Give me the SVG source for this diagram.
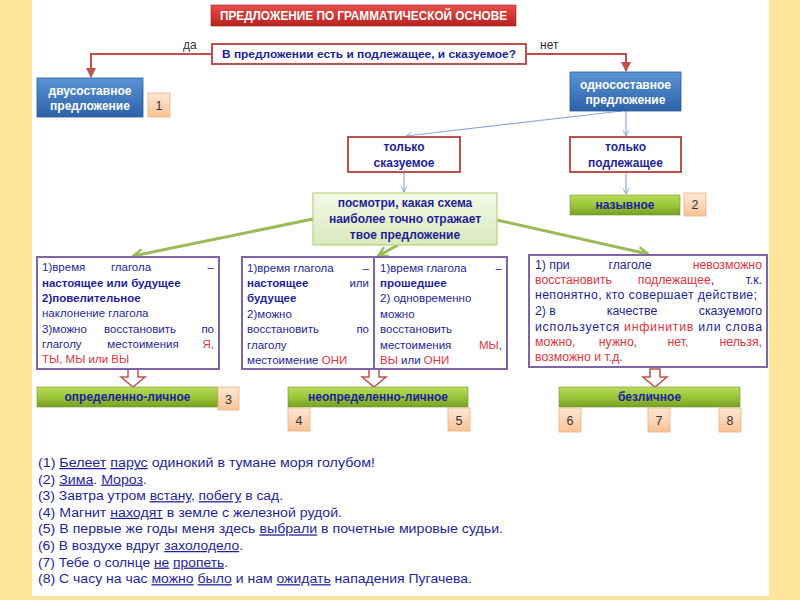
<svg xmlns="http://www.w3.org/2000/svg" width="800" height="600" viewBox="0 0 800 600">
<defs>
<linearGradient id="gRed" x1="0" y1="0" x2="0" y2="1"><stop offset="0" stop-color="#E8504A"/><stop offset="1" stop-color="#B8221F"/></linearGradient>
<linearGradient id="gBlue" x1="0" y1="0" x2="0" y2="1"><stop offset="0" stop-color="#5B93D6"/><stop offset="1" stop-color="#2D62A8"/></linearGradient>
<linearGradient id="gGreen" x1="0" y1="0" x2="0" y2="1"><stop offset="0" stop-color="#B9DC5C"/><stop offset="0.5" stop-color="#9CC63A"/><stop offset="1" stop-color="#76A022"/></linearGradient>
<linearGradient id="gLight" x1="0" y1="0" x2="0" y2="1"><stop offset="0" stop-color="#F4F9E8"/><stop offset="1" stop-color="#D9E9BC"/></linearGradient>
<linearGradient id="gOr" x1="0" y1="0" x2="0" y2="1"><stop offset="0" stop-color="#FEE8D6"/><stop offset="1" stop-color="#F9C296"/></linearGradient>
<marker id="mRed" viewBox="0 0 10 10" refX="9" refY="5" markerWidth="5" markerHeight="5" orient="auto"><path d="M0,0 L10,5 L0,10 z" fill="#C0504D"/></marker>
<marker id="mBlue" viewBox="0 0 10 10" refX="9" refY="5" markerWidth="7" markerHeight="7" orient="auto" markerUnits="userSpaceOnUse"><path d="M1,1 L9,5 L1,9" fill="none" stroke="#7F9FD0" stroke-width="1.3"/></marker>
<marker id="mGreen" viewBox="0 0 10 10" refX="9" refY="5" markerWidth="12" markerHeight="12" orient="auto" markerUnits="userSpaceOnUse"><path d="M1,1 L9,5 L1,9" fill="none" stroke="#9BBB59" stroke-width="2"/></marker>
</defs>
<style>
text{font-family:"Liberation Sans",Arial,sans-serif;}
.t{fill:#1f1f9a;font-size:11.5px;}
.t12{fill:#1f1f9a;font-size:12px;}
.tr{fill:#1f1f9a;font-size:12.3px;}
.b{font-weight:bold;}
.r{fill:#e5333b;}
.w12{fill:#ffffff;font-weight:bold;font-size:12px;}
.box{fill:#ffffff;stroke:#C0504D;stroke-width:2;}
.pbox{fill:#ffffff;stroke:#7F64A8;stroke-width:2;}
.blue{fill:url(#gBlue);stroke:#2A5A98;stroke-width:0.8;}
.green{fill:url(#gGreen);stroke:#6E9628;stroke-width:0.6;}
.or{fill:url(#gOr);stroke:#F2B07A;stroke-width:0.8;}
.num{fill:#333333;font-size:12.5px;}
.bt{fill:#1f1f9a;font-size:12.5px;}
.u{text-decoration:underline;}
.harrow{fill:#ffffff;stroke:#C0504D;stroke-width:1.5;}
</style>
<rect x="0" y="0" width="800" height="600" fill="#FFE49B"/>
<rect x="32" y="0" width="737" height="596" fill="#ffffff"/>

<g id="connectors">
<path d="M212,54 H91 V77" fill="none" stroke="#C0504D" stroke-width="2" marker-end="url(#mRed)"/>
<path d="M526,54 H626 V71" fill="none" stroke="#C0504D" stroke-width="2" marker-end="url(#mRed)"/>
<path d="M622,111 L406,136" fill="none" stroke="#8FAADC" stroke-width="1.2" marker-end="url(#mBlue)"/>
<path d="M626,111 V136" fill="none" stroke="#8FAADC" stroke-width="1.2" marker-end="url(#mBlue)"/>
<path d="M404,172 V192" fill="none" stroke="#8FAADC" stroke-width="1.2" marker-end="url(#mBlue)"/>
<path d="M626,171 V194" fill="none" stroke="#8FAADC" stroke-width="1.2" marker-end="url(#mBlue)"/>
<path d="M313,219 L133,256" fill="none" stroke="#9BBB59" stroke-width="3" marker-end="url(#mGreen)"/>
<path d="M398,245 L378,256" fill="none" stroke="#9BBB59" stroke-width="3" marker-end="url(#mGreen)"/>
<path d="M497,220 L648,254" fill="none" stroke="#9BBB59" stroke-width="3" marker-end="url(#mGreen)"/>
<path class="harrow" d="M128,369 h10 v8 h7 l-12,10 l-12,-10 h7 z"/>
<path class="harrow" d="M369,369 h10 v8 h7 l-12,10 l-12,-10 h7 z"/>
<path class="harrow" d="M650,369 h10 v8 h7 l-12,10 l-12,-10 h7 z"/>
</g>

<g id="title">
<rect x="211" y="5" width="305" height="21" fill="url(#gRed)" stroke="#A01A1A" stroke-width="0.6"/>
<text class="w12" x="363.5" y="20" text-anchor="middle" textLength="287" lengthAdjust="spacingAndGlyphs">ПРЕДЛОЖЕНИЕ ПО ГРАММАТИЧЕСКОЙ ОСНОВЕ</text>
</g>

<g id="label-da"><text x="183" y="49" font-size="12" fill="#333333">да</text></g>
<g id="label-net"><text x="540" y="49" font-size="12" fill="#333333">нет</text></g>

<g id="question">
<rect class="box" x="212" y="44" width="314" height="20"/>
<text class="t b" x="369" y="58" text-anchor="middle" textLength="294" lengthAdjust="spacingAndGlyphs">В предложении есть и подлежащее, и сказуемое?</text>
</g>

<g id="dvusostavnoe">
<rect class="blue" x="37" y="78" width="106" height="39"/>
<text class="w12" x="90" y="95" text-anchor="middle">двусоставное</text>
<text class="w12" x="90" y="110" text-anchor="middle">предложение</text>
</g>
<g id="n1"><rect class="or" x="148" y="93" width="22" height="24"/><text class="num" x="159" y="110" text-anchor="middle">1</text></g>

<g id="odnosostavnoe">
<rect class="blue" x="570" y="72" width="111" height="39"/>
<text class="w12" x="625.5" y="89" text-anchor="middle">односоставное</text>
<text class="w12" x="625.5" y="104" text-anchor="middle">предложение</text>
</g>

<g id="tolko-skazuemoe">
<rect class="box" x="348" y="137" width="112" height="35"/>
<text class="t12 b" x="404" y="151" text-anchor="middle">только</text>
<text class="t12 b" x="404" y="167" text-anchor="middle">сказуемое</text>
</g>

<g id="tolko-podlezhashchee">
<rect class="box" x="570" y="137" width="111" height="35"/>
<text class="t12 b" x="625.5" y="151" text-anchor="middle">только</text>
<text class="t12 b" x="625.5" y="167" text-anchor="middle">подлежащее</text>
</g>

<g id="nazyvnoe">
<rect class="green" x="570" y="195" width="110" height="20"/>
<text class="t12 b" x="625" y="209" text-anchor="middle">назывное</text>
</g>
<g id="n2"><rect class="or" x="684" y="193" width="22" height="23"/><text class="num" x="695" y="209" text-anchor="middle">2</text></g>

<g id="posmotri">
<rect x="313" y="193" width="184" height="52" fill="url(#gLight)" stroke="#B9D27F" stroke-width="1.2"/>
<text class="t12 b" x="405" y="207" text-anchor="middle">посмотри, какая схема</text>
<text class="t12 b" x="405" y="223" text-anchor="middle">наиболее точно отражает</text>
<text class="t12 b" x="405" y="239" text-anchor="middle">твое предложение</text>
</g>

<g id="box-opr">
<rect class="pbox" x="37" y="257" width="182" height="112"/>
<text class="t" x="42" y="271">1)время</text><text class="t" x="131" y="271" text-anchor="middle">глагола</text><text class="t" x="214" y="271" text-anchor="end">–</text>
<text class="t b" x="42" y="287">настоящее или будущее</text>
<text class="t b" x="42" y="302">2)повелительное</text>
<text class="t" x="42" y="317">наклонение глагола</text>
<text class="t" x="42" y="333">3)можно</text><text class="t" x="140" y="333" text-anchor="middle">восстановить</text><text class="t" x="214" y="333" text-anchor="end">по</text>
<text class="t" x="42" y="348">глаголу</text><text class="t" x="143" y="348" text-anchor="middle">местоимения</text><text class="t r" x="214" y="348" text-anchor="end">Я,</text>
<text class="t r" x="42" y="363">ТЫ, МЫ или ВЫ</text>
</g>

<g id="box-neopr-1">
<rect class="pbox" x="242" y="257" width="132" height="112"/>
<text class="t" x="247" y="272">1)время глагола</text><text class="t" x="369" y="272" text-anchor="end">–</text>
<text class="t b" x="247" y="287">настоящее</text><text class="t" x="369" y="287" text-anchor="end">или</text>
<text class="t b" x="247" y="302">будущее</text>
<text class="t" x="247" y="318">2)можно</text>
<text class="t" x="247" y="333">восстановить</text><text class="t" x="369" y="333" text-anchor="end">по</text>
<text class="t" x="247" y="349">глаголу</text>
<text class="t" x="247" y="364">местоимение <tspan class="r">ОНИ</tspan></text>
</g>

<g id="box-neopr-2">
<rect class="pbox" x="374" y="257" width="133" height="112"/>
<text class="t" x="380" y="272">1)время глагола</text><text class="t" x="502" y="272" text-anchor="end">–</text>
<text class="t b" x="380" y="287">прошедшее</text>
<text class="t" x="380" y="302">2) одновременно</text>
<text class="t" x="380" y="318">можно</text>
<text class="t" x="380" y="333">восстановить</text>
<text class="t" x="380" y="349">местоимения</text><text class="t" x="502" y="349" text-anchor="end"><tspan class="r">МЫ</tspan>,</text>
<text class="t" x="380" y="364"><tspan class="r">ВЫ</tspan> или <tspan class="r">ОНИ</tspan></text>
</g>

<g id="box-bezl">
<rect class="pbox" x="529" y="255" width="238" height="112"/>
<text class="tr" x="535" y="269">1) при</text><text class="tr" x="630" y="269" text-anchor="middle">глаголе</text><text class="tr r" x="762" y="269" text-anchor="end">невозможно</text>
<text class="tr r" x="535" y="284">восстановить</text><text class="tr" x="676" y="284" text-anchor="middle"><tspan class="r">подлежащее</tspan>,</text><text class="tr" x="762" y="284" text-anchor="end">т.к.</text>
<text class="tr" x="535" y="299" textLength="222" lengthAdjust="spacing">непонятно, кто совершает действие;</text>
<text class="tr" x="535" y="315">2) в</text><text class="tr" x="632" y="315" text-anchor="middle">качестве</text><text class="tr" x="762" y="315" text-anchor="end">сказуемого</text>
<text class="tr" x="535" y="331" textLength="227" lengthAdjust="spacing">используется <tspan class="r">инфинитив</tspan> или слова</text>
<text class="tr r" x="535" y="346">можно,</text><text class="tr r" x="618" y="346" text-anchor="middle">нужно,</text><text class="tr r" x="678" y="346" text-anchor="middle">нет,</text><text class="tr r" x="762" y="346" text-anchor="end">нельзя,</text>
<text class="tr r" x="535" y="361">возможно и т.д.</text>
</g>

<g id="opredelenno-lichnoe">
<rect class="green" x="37" y="387" width="181" height="20"/>
<text class="t12 b" x="127.5" y="401" text-anchor="middle">определенно-личное</text>
</g>
<g id="n3"><rect class="or" x="218" y="387" width="21" height="23"/><text class="num" x="228.5" y="404" text-anchor="middle">3</text></g>

<g id="neopredelenno-lichnoe">
<rect class="green" x="288" y="387" width="180" height="20"/>
<text class="t12 b" x="378" y="401" text-anchor="middle">неопределенно-личное</text>
</g>
<g id="n4"><rect class="or" x="288" y="408" width="22" height="23"/><text class="num" x="299" y="425" text-anchor="middle">4</text></g>
<g id="n5"><rect class="or" x="448" y="408" width="22" height="23"/><text class="num" x="459" y="425" text-anchor="middle">5</text></g>

<g id="bezlichnoe">
<rect class="green" x="559" y="387" width="181" height="20"/>
<text class="t12 b" x="649.5" y="401" text-anchor="middle">безличное</text>
</g>
<g id="n6"><rect class="or" x="559" y="408" width="22" height="24"/><text class="num" x="570" y="425" text-anchor="middle">6</text></g>
<g id="n7"><rect class="or" x="648" y="408" width="22" height="24"/><text class="num" x="659" y="425" text-anchor="middle">7</text></g>
<g id="n8"><rect class="or" x="719" y="408" width="22" height="24"/><text class="num" x="730" y="425" text-anchor="middle">8</text></g>

<g id="examples">
<text class="bt" x="38" y="467" textLength="337" lengthAdjust="spacingAndGlyphs">(1) <tspan class="u">Белеет</tspan> <tspan class="u">парус</tspan> одинокий в тумане моря голубом!</text>
<text class="bt" x="38" y="483.6" textLength="109" lengthAdjust="spacingAndGlyphs">(2) <tspan class="u">Зима</tspan>. <tspan class="u">Мороз</tspan>.</text>
<text class="bt" x="38" y="500.2" textLength="245" lengthAdjust="spacingAndGlyphs">(3) Завтра утром <tspan class="u">встану</tspan>, <tspan class="u">побегу</tspan> в сад.</text>
<text class="bt" x="38" y="516.8" textLength="304" lengthAdjust="spacingAndGlyphs">(4) Магнит <tspan class="u">находят</tspan> в земле с железной рудой.</text>
<text class="bt" x="38" y="533.4" textLength="465" lengthAdjust="spacingAndGlyphs">(5) В первые же годы меня здесь <tspan class="u">выбрали</tspan> в почетные мировые судьи.</text>
<text class="bt" x="38" y="550" textLength="205" lengthAdjust="spacingAndGlyphs">(6) В воздухе вдруг <tspan class="u">захолодело</tspan>.</text>
<text class="bt" x="38" y="566.6" textLength="190" lengthAdjust="spacingAndGlyphs">(7) Тебе о солнце <tspan class="u">не</tspan> <tspan class="u">пропеть</tspan>.</text>
<text class="bt" x="38" y="583.2" textLength="434" lengthAdjust="spacingAndGlyphs">(8) С часу на час <tspan class="u">можно</tspan> <tspan class="u">было</tspan> и нам <tspan class="u">ожидать</tspan> нападения Пугачева.</text>
</g>
</svg>
